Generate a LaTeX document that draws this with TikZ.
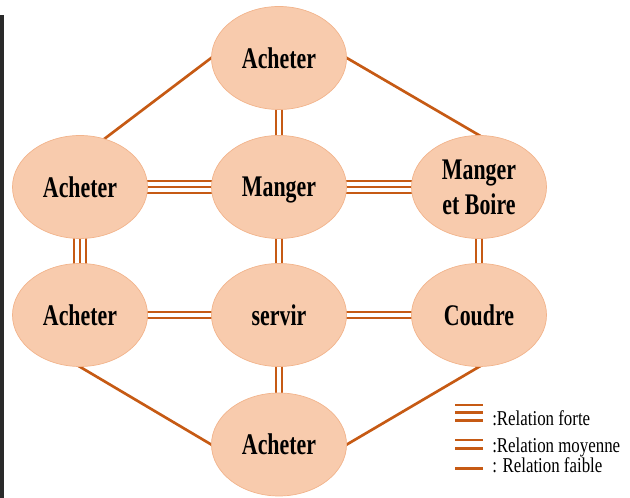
\documentclass[tikz,border=0pt]{standalone}
\usepackage{fontspec}
\setmainfont{Liberation Serif}
\newfontfamily\bullefont{Liberation Serif}[FakeStretch=0.73]
\newfontfamily\legendefont{Liberation Serif}[FakeStretch=0.8]
\usetikzlibrary{shapes.geometric,backgrounds}
\definecolor{peche}{HTML}{F8CBAD}
\definecolor{bordpeche}{HTML}{F2B48C}
\definecolor{brique}{HTML}{C65A14}
\definecolor{bandeau}{HTML}{2A2A2A}
\tikzset{
  bulle/.style={ellipse,fill=peche,draw=bordpeche,line width=0.5pt,
    minimum width=3.375cm,minimum height=2.575cm,inner sep=0pt,align=center,text depth=0pt,
    font=\bullefont\bfseries\fontsize{21.3}{24.8}\selectfont},
  faible/.style={draw=brique,line width=1.9pt,line cap=butt},
  moyenne/.style={draw=brique,line width=1.6pt,double=white,double distance=2.3pt,line cap=butt},
  forte/.style={draw=brique,line width=1.5pt,line cap=butt,
    preaction={draw=brique,line width=10.5pt},preaction={draw=white,line width=7.5pt}},
  prolonge/.style={shorten <=-2pt,shorten >=-2pt},
  legtrait/.style={draw=brique,line width=2pt},
  legtexte/.style={anchor=base west,inner sep=0pt,font=\legendefont\fontsize{15}{18}\selectfont}
}

\begin{document}
\begin{tikzpicture}[line join=round]
  \useasboundingbox (0,0) rectangle (15.75,12.45);
  \fill[bandeau] (0,0) rectangle (0.1,12.08);
  % les bulles
  \node[bulle] (haut) at (6.975,11.0) {Acheter};
  \node[bulle] (gauche) at (2.0,7.775) {Acheter};
  \node[bulle] (manger) at (6.975,7.775) {Manger};
  \node[bulle] (boire) at (11.975,7.775) {Manger\\et Boire};
  \node[bulle] (gaucheB) at (2.0,4.575) {Acheter};
  \node[bulle] (servir) at (6.975,4.575) {servir};
  \node[bulle] (coudre) at (11.975,4.575) {Coudre};
  \node[bulle] (bas) at (6.975,1.3375) {Acheter};
  % les relations
  \begin{scope}[on background layer]
    \draw[faible,prolonge] (haut.west) -- (gauche.63);
    \draw[faible,prolonge] (haut.east) -- (boire.north);
    \draw[moyenne,prolonge] (haut) -- (manger);
    \draw[forte,prolonge] (gauche) -- (manger);
    \draw[forte,prolonge] (manger) -- (boire);
    \draw[forte,prolonge] (gauche) -- (gaucheB);
    \draw[moyenne,prolonge] (manger) -- (servir);
    \draw[moyenne,prolonge] (boire) -- (coudre);
    \draw[moyenne,prolonge] (gaucheB) -- (servir);
    \draw[moyenne,prolonge] (servir) -- (coudre);
    \draw[moyenne,prolonge] (servir) -- (bas);
    \draw[faible,prolonge] (gaucheB.south) -- (bas.west);
    \draw[faible,prolonge] (bas.east) -- (coudre.south);
  \end{scope}
  % legende
  \draw[legtrait] (11.375,2.325) -- (12.075,2.325);
  \draw[legtrait] (11.375,2.13) -- (12.075,2.13);
  \draw[legtrait] (11.375,1.935) -- (12.075,1.935);
  \draw[legtrait] (11.375,1.45) -- (12.075,1.45);
  \draw[legtrait] (11.375,1.245) -- (12.075,1.245);
  \draw[legtrait] (11.375,0.745) -- (12.075,0.745);
  \node[legtexte] (lforte) at (12.3,1.8) {:Relation forte};
  \node[legtexte] (lmoyenne) at (12.3,1.125) {:Relation moyenne};
  \node[legtexte] (lfaible) at (12.3,0.625) {: Relation faible};
\end{tikzpicture}
\end{document}
